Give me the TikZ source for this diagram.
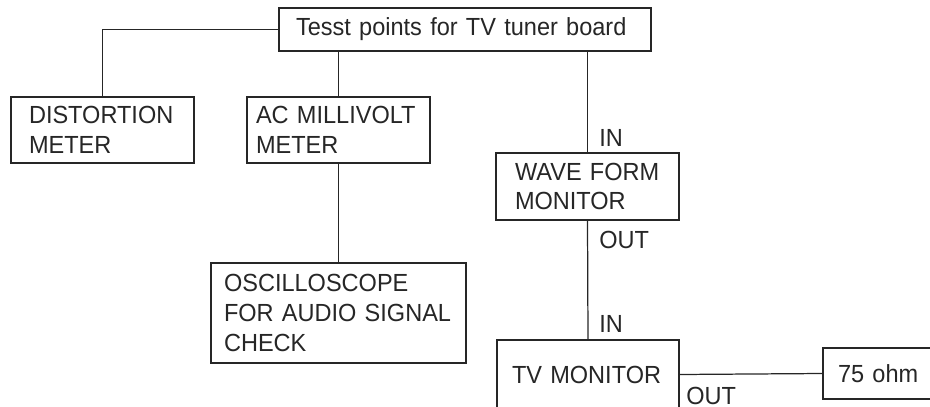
\documentclass[tikz,border=0pt]{standalone}
\usepackage{fontspec}
\setmainfont[FakeStretch=0.95]{Liberation Sans}
\usepackage{tikz}
\usetikzlibrary{positioning}

\begin{document}
\begin{tikzpicture}[x=0.02cm,y=-0.02cm,
        every node/.style={font=\fontsize{14.1}{17}\selectfont, text=black!85},
        box/.style={draw=black!85, line width=0.7pt, inner ysep=0pt, align=left},
        tag/.style={anchor=base west, inner sep=0pt},
        wire/.style={draw=black!85, line width=0.7pt}]
        \useasboundingbox (0,0) rectangle (930,406);
        \node[box, text width=6.76cm, inner xsep=0.34cm, minimum height=0.86cm] (top) at (465,29.5) {Tesst points for TV tuner board};
        \node[box, text width=2.94cm, inner xsep=0.36cm, minimum height=1.32cm] (dist) at (102.5,130) {DISTORTION\\METER};
        \node[box, text width=3.3cm, inner xsep=0.18cm, minimum height=1.32cm] (acmv) at (338.5,130) {AC MILLIVOLT\\METER};
        \node[box, text width=4.58cm, inner xsep=0.26cm, minimum height=2cm] (osc) at (338.5,313) {OSCILLOSCOPE\\FOR AUDIO SIGNAL\\CHECK};
        \node[box, text width=2.9cm, inner xsep=0.38cm, minimum height=1.34cm] (wfm) at (587.5,186.5) {WAVE FORM\\MONITOR};
        \node[box, text width=3.04cm, inner xsep=0.3cm, minimum height=1.38cm] (tvm) at (588,374.5) {TV MONITOR};
        \node[box, text width=1.8cm, inner xsep=0.3cm, minimum height=1.02cm] (ohm) at (883,373.5) {75 ohm};
        % connections
        \draw[wire] (top.west) -| (dist.north);
        \draw[wire] (acmv.north |- top.south) -- (acmv.north);
        \draw[wire] (acmv.south) -- (osc.north);
        \draw[wire] (wfm.north |- top.south) -- (wfm.north);
        \draw[wire] (wfm.south) -- (tvm.north);
        \draw[wire] (tvm.east) -- (ohm.west);
        % port labels
        \node[tag] (wfmin) at (599,146) {IN};
        \node[tag] (wfmout) at (599,248) {OUT};
        \node[tag] (tvmin) at (599,332) {IN};
        \node[tag] (tvmout) at (686,404) {OUT};
\end{tikzpicture}
\end{document}
